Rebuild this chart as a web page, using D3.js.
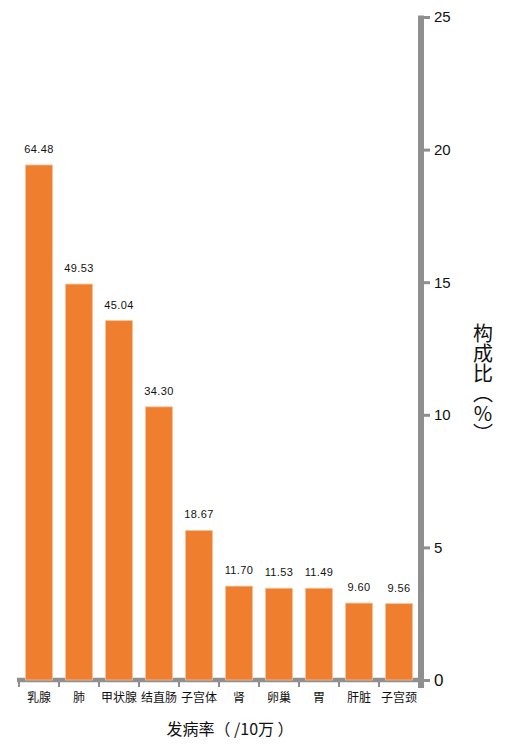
<!DOCTYPE html>
<html>
<head>
<meta charset="utf-8">
<script src="https://cdn.jsdelivr.net/npm/d3@7"></script>
<style>
  html, body { margin: 0; padding: 0; background: #fff; }
  svg { display: block; }
</style>
</head>
<body>
<svg id="chart" width="506" height="744"></svg>
<script>
const categories = ["乳腺", "肺", "甲状腺", "结直肠", "子宫体", "肾", "卵巢", "胃", "肝脏", "子宫颈"];
const incidence = ["64.48", "49.53", "45.04", "34.30", "18.67", "11.70", "11.53", "11.49", "9.60", "9.56"];
const share = [19.42, 14.93, 13.55, 10.30, 5.64, 3.54, 3.46, 3.46, 2.90, 2.88];
const yTicks = [0, 5, 10, 15, 20, 25];
const xTitle = "发病率（ /10万 ）";
const yTitle = "构成比︵%︶";

const svg = d3.select("#chart");
const gray = "#8f8f8f";
const orange = "#ef7f2e";
const numFont = "'Liberation Sans', Arial, sans-serif";
const cjkFont = "'Noto Sans CJK SC', sans-serif";

const x = d3.scaleBand().domain(categories).range([19, 419]).paddingInner(0.325).paddingOuter(0.1625);
const y = d3.scaleLinear().domain([0, 25]).range([680, 17]);
const axisX = 421;

// bottom axis line
svg.append("line")
  .attr("x1", 17).attr("x2", axisX)
  .attr("y1", y(0)).attr("y2", y(0))
  .attr("stroke", gray).attr("stroke-width", 4.5);

// category boundary ticks
const gap = (x.step() - x.bandwidth()) / 2;
const bounds = categories.map(c => x(c) - gap);
svg.append("g").selectAll("line").data(bounds).join("line")
  .attr("x1", d => d).attr("x2", d => d)
  .attr("y1", y(0)).attr("y2", y(0) + 7)
  .attr("stroke", gray).attr("stroke-width", 2);

// bars
svg.append("g").selectAll("rect").data(categories).join("rect")
  .attr("x", d => x(d))
  .attr("width", x.bandwidth())
  .attr("y", (d, i) => y(share[i]))
  .attr("height", (d, i) => y(0) - y(share[i]))
  .attr("fill", orange)
  .attr("stroke", "#f6c29a")
  .attr("stroke-width", 0.8);

// value labels
svg.append("g").selectAll("text").data(categories).join("text")
  .attr("x", d => x(d) + x.bandwidth() / 2)
  .attr("y", (d, i) => y(share[i]) - 12)
  .attr("text-anchor", "middle")
  .attr("font-family", numFont)
  .attr("font-size", 11)
  .attr("letter-spacing", 0.4)
  .attr("fill", "#111")
  .text((d, i) => incidence[i]);

// category labels
svg.append("g").selectAll("text").data(categories).join("text")
  .attr("x", d => x(d) + x.bandwidth() / 2)
  .attr("y", 702)
  .attr("text-anchor", "middle")
  .attr("font-family", cjkFont)
  .attr("font-size", 12)
  .attr("fill", "#111")
  .text(d => d);

// right axis
const yAxis = d3.axisRight(y).tickValues(yTicks).tickSize(9).tickSizeOuter(0).tickPadding(4);
const gy = svg.append("g").attr("transform", `translate(${axisX},0)`).call(yAxis);
gy.select(".domain").remove();
gy.selectAll(".tick line").attr("stroke", gray).attr("stroke-width", 3).attr("x1", -3);
gy.selectAll(".tick text")
  .attr("font-family", numFont)
  .attr("font-size", d => d === 0 ? 17 : 15)
  .attr("fill", "#111");
gy.append("line")
  .attr("x1", 0).attr("x2", 0)
  .attr("y1", y(25) - 1.5).attr("y2", y(0) + 8)
  .attr("stroke", gray).attr("stroke-width", 6);

// x title
svg.append("text")
  .attr("x", 230).attr("y", 735)
  .attr("text-anchor", "middle")
  .attr("font-family", cjkFont)
  .attr("font-size", 16)
  .attr("fill", "#111")
  .attr("xml:space", "preserve")
  .style("white-space", "pre")
  .text(xTitle);

// y title (vertical, upright)
svg.append("text")
  .attr("x", 483).attr("y", 383)
  .attr("text-anchor", "middle")
  .attr("font-family", cjkFont)
  .attr("font-size", 20)
  .attr("fill", "#111")
  .style("writing-mode", "vertical-rl")
  .style("text-orientation", "upright")
  .text(yTitle);
</script>
</body>
</html>
